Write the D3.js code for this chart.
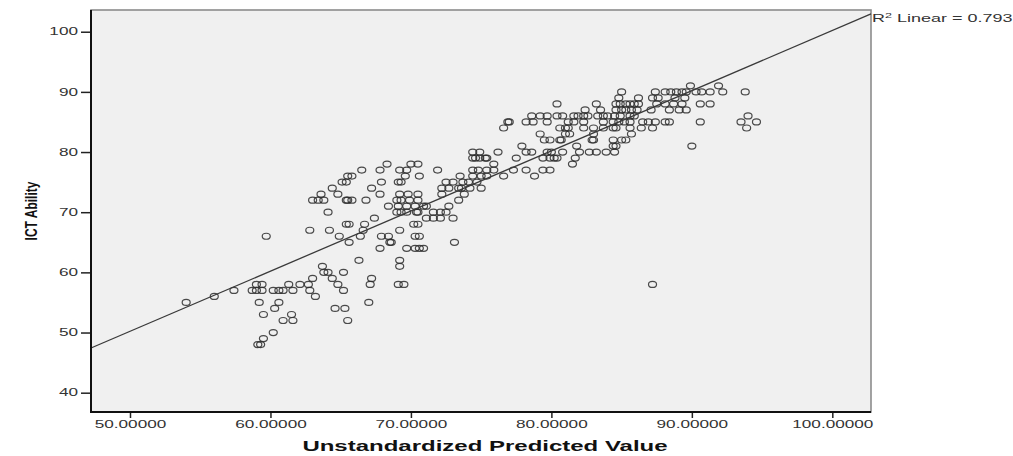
<!DOCTYPE html>
<html>
<head>
<meta charset="utf-8">
<script src="https://cdn.jsdelivr.net/npm/d3@7"></script>
<style>
  body { margin: 0; background: #fff; }
</style>
</head>
<body>
<script>
// ICT Ability (integer scores), one row of predicted values per score
const ictRows = [91, 90, 89, 88, 87, 86, 85, 84, 83, 82, 81, 80, 79, 78, 77, 76, 75, 74, 73, 72,
  71, 70, 69, 68, 67, 66, 65, 64, 62, 61, 60, 59, 58, 57, 56, 55, 54, 53, 52, 50, 49, 48];

const predictedByRow = [
  [89.9, 91.9],
  [85.0, 87.4, 88.1, 88.5, 88.9, 89.3, 89.6, 90.3, 90.7, 91.3, 92.2, 93.8],
  [84.8, 86.2, 87.2, 87.6, 88.8, 89.5],
  [80.4, 83.2, 84.6, 84.9, 85.3, 85.6, 85.9, 86.2, 87.5, 88.1, 88.7, 89.3, 90.6, 91.3],
  [82.4, 83.5, 84.6, 85.0, 85.3, 85.7, 86.1, 87.1, 88.4, 89.1, 89.6],
  [78.6, 79.2, 79.7, 80.4, 80.8, 81.6, 81.9, 82.3, 82.6, 83.3, 83.7, 84.0, 84.5, 84.9, 85.6, 85.9, 94.0],
  [76.9, 77.0, 78.2, 78.7, 79.7, 81.2, 81.6, 82.3, 83.7, 84.4, 84.8, 85.2, 85.6, 86.5, 86.9, 87.4, 88.1, 88.4, 90.6, 93.5, 94.6],
  [76.6, 80.6, 81.0, 81.2, 82.3, 83.0, 83.7, 84.4, 84.6, 85.6, 86.4, 87.2, 93.9],
  [79.2, 81.0, 81.3, 83.0, 85.7],
  [79.5, 79.9, 80.6, 80.7, 82.9, 83.0, 84.4, 85.0, 85.3],
  [77.9, 81.8, 84.4, 84.6, 90.0],
  [74.4, 74.9, 76.2, 78.2, 78.6, 79.7, 80.0, 80.8, 82.0, 82.7, 83.2, 83.9, 84.5],
  [74.4, 74.6, 74.9, 75.3, 75.4, 77.5, 79.4, 79.9, 80.2, 80.4, 81.7],
  [68.3, 70.0, 70.5, 75.9, 81.5],
  [66.5, 67.8, 69.2, 69.7, 71.9, 74.4, 74.8, 75.4, 75.9, 77.3, 78.2, 79.4, 79.9],
  [65.5, 65.8, 69.6, 70.6, 73.5, 74.4, 75.0, 75.4, 76.6, 78.8],
  [65.1, 65.4, 67.9, 69.1, 69.3, 72.5, 73.0, 73.7, 74.1, 74.7],
  [64.4, 67.2, 72.2, 72.7, 73.4, 73.6, 74.2, 75.0],
  [63.6, 64.8, 67.8, 69.2, 69.8, 70.5, 72.2, 73.8],
  [63.0, 63.4, 63.8, 65.4, 65.5, 65.8, 66.8, 69.0, 69.3, 69.9, 70.5, 73.4],
  [68.4, 69.1, 69.7, 70.3, 70.9, 71.1, 72.7],
  [64.1, 69.0, 69.3, 69.7, 70.4, 70.5, 71.6, 72.1, 72.5],
  [67.4, 71.1, 71.6, 72.1, 73.0],
  [65.4, 65.6, 66.7, 70.2, 70.5],
  [62.8, 64.2, 66.6, 69.2],
  [59.7, 64.9, 66.4, 67.9, 68.4, 70.3, 70.6],
  [65.6, 68.5, 68.6, 73.1],
  [67.8, 69.7, 70.3, 70.6, 70.9],
  [66.3, 69.2],
  [63.7, 69.2],
  [63.8, 64.1, 65.2],
  [63.0, 64.4, 67.2],
  [59.0, 59.4, 61.3, 62.1, 62.7, 64.8, 67.1, 69.1, 69.5, 87.2],
  [57.4, 58.7, 59.0, 59.4, 60.2, 60.6, 60.9, 61.6, 62.8, 65.2],
  [56.0, 63.2],
  [54.0, 59.2, 60.6, 67.0],
  [60.3, 64.6, 65.3],
  [59.5, 61.5],
  [60.9, 61.6, 65.5],
  [60.2],
  [59.5],
  [59.1, 59.3]
];

const xTicks = [50, 60, 70, 80, 90, 100];
const yTicks = [40, 50, 60, 70, 80, 90, 100];
const fitIntercept = 0.2, fitSlope = 1.0;
const rSquared = "0.793";

const width = 1013, height = 456;
const plot = { left: 91, right: 871, top: 10, bottom: 412 };
const font = "'Liberation Sans', Arial, sans-serif";
const stretch = 1.72; // the picture's text is wide

const points = [];
ictRows.forEach((v, i) => predictedByRow[i].forEach(p => points.push({ x: p, y: v })));

const x = d3.scaleLinear().domain([47.224, 102.754]).range([plot.left, plot.right]);
const y = d3.scaleLinear().domain([36.79, 103.61]).range([plot.bottom, plot.top]);

const svg = d3.select("body").append("svg")
  .attr("width", width)
  .attr("height", height);

svg.append("rect")
  .attr("x", plot.left).attr("y", plot.top)
  .attr("width", plot.right - plot.left).attr("height", plot.bottom - plot.top)
  .attr("fill", "#f0f0f0")
  .attr("stroke", "#8c8c8c")
  .attr("stroke-width", 1.6);

// points
svg.append("g")
  .selectAll("ellipse")
  .data(points)
  .join("ellipse")
  .attr("cx", d => x(d.x))
  .attr("cy", d => y(d.y))
  .attr("rx", 4)
  .attr("ry", 3)
  .attr("fill", "none")
  .attr("stroke", "#2b2b2b")
  .attr("stroke-opacity", 0.85)
  .attr("stroke-width", 1.2);

// fit line
const xd = x.domain();
svg.append("path")
  .datum(xd.map(v => ({ x: v, y: fitIntercept + fitSlope * v })))
  .attr("d", d3.line().x(d => x(d.x)).y(d => y(d.y)))
  .attr("fill", "none")
  .attr("stroke", "#3a3a3a")
  .attr("stroke-width", 1.3);

// axes
const xAxis = svg.append("g")
  .attr("transform", `translate(0,${plot.bottom})`)
  .call(d3.axisBottom(x).tickValues(xTicks).tickSize(6).tickPadding(3).tickFormat(d3.format(".5f")));
xAxis.select(".domain").remove();
xAxis.attr("font-family", font).attr("font-size", 10);
xAxis.selectAll("line").attr("stroke", "#222").attr("stroke-width", 1.5);
xAxis.selectAll("text").attr("fill", "#333").attr("transform", `scale(${stretch},1)`);

const yAxis = svg.append("g")
  .attr("transform", `translate(${plot.left},0)`)
  .call(d3.axisLeft(y).tickValues(yTicks).tickSize(10).tickPadding(3));
yAxis.select(".domain").remove();
yAxis.attr("font-family", font).attr("font-size", 10);
yAxis.selectAll("line").attr("stroke", "#222").attr("stroke-width", 1.5);
yAxis.selectAll("text").attr("fill", "#333")
  .attr("x", -13 / stretch)
  .attr("transform", `scale(${stretch},1)`);

// black left and bottom axis lines
svg.append("path")
  .attr("d", `M${plot.left},${plot.top}V${plot.bottom}H${plot.right}`)
  .attr("fill", "none")
  .attr("stroke", "#111")
  .attr("stroke-width", 2);

// titles
svg.append("text")
  .attr("transform", `translate(${(plot.left + plot.right) / 2 + 4},${451}) scale(1.6,1)`)
  .attr("text-anchor", "middle")
  .attr("font-family", font)
  .attr("font-weight", "bold")
  .attr("font-size", 15)
  .attr("fill", "#111")
  .text("Unstandardized Predicted Value");

svg.append("text")
  .attr("transform", `translate(37,${(plot.top + plot.bottom) / 2}) scale(1.4,1) rotate(-90)`)
  .attr("text-anchor", "middle")
  .attr("font-family", font)
  .attr("font-weight", "bold")
  .attr("font-size", 12)
  .attr("fill", "#111")
  .text("ICT Ability");

// R2 label at end of the fit line
const r2 = svg.append("text")
  .attr("transform", `translate(${plot.right + 1},21.5) scale(1.8,1)`)
  .attr("font-family", font)
  .attr("font-size", 10)
  .attr("fill", "#333");
r2.append("tspan").text("R");
r2.append("tspan").attr("dy", -4).attr("font-size", 7).text("2");
r2.append("tspan").attr("dy", 4).text(" Linear = " + rSquared);
</script>
</body>
</html>
